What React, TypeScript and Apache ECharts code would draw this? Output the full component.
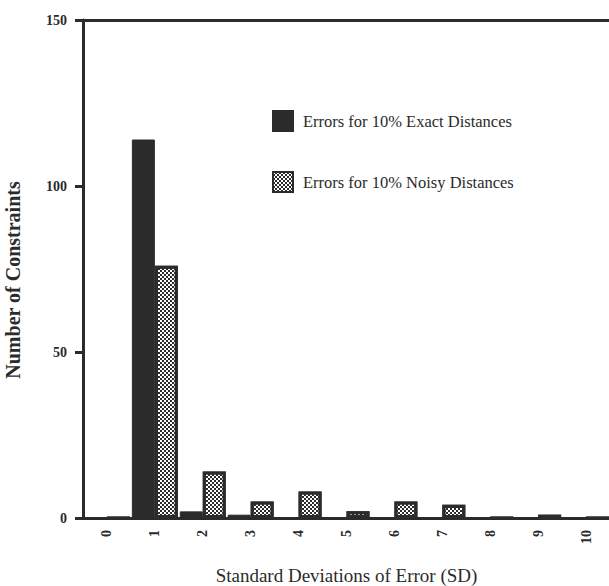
import React, { useEffect, useRef } from "react";
import * as echarts from "echarts";

const categories = ["0", "1", "2", "3", "4", "5", "6", "7", "8", "9", "10"];
const exactValues = [0, 114, 2, 1, 0, 0, 0, 0, 0, 0, 0];
const noisyValues = [0, 76, 14, 5, 8, 2, 5, 4, 0, 1, 0];
const exactName = "Errors for 10% Exact Distances";
const noisyName = "Errors for 10% Noisy Distances";
const yTicks = [0, 50, 100, 150];

const FONT = "'Liberation Serif', 'Times New Roman', serif";
const INK = "#2b2b2b";

export default function App() {
  const ref = useRef<HTMLDivElement>(null);
  useEffect(() => {
    if (!ref.current) return;
    const chart = echarts.init(ref.current, undefined, { renderer: "svg" });
    chart.setOption({
      animation: false,
      backgroundColor: "#fff",
      textStyle: { fontFamily: FONT },
      grid: { left: 83, right: -1, top: 20, bottom: 68, containLabel: false, outerBoundsMode: "none" },
      legend: {
        orient: "vertical",
        left: 272,
        top: 110,
        padding: 0,
        itemWidth: 20,
        itemHeight: 20,
        itemGap: 39,
        textStyle: { fontFamily: FONT, fontSize: 16.5, color: INK, padding: [0, 0, 0, 5] },
        data: [
          { name: exactName, icon: "rect" },
          { name: noisyName, icon: "rect" },
        ],
      },
      xAxis: [
        {
          type: "category",
          data: categories,
          position: "bottom",
          name: "Standard Deviations of Error (SD)",
          nameLocation: "middle",
          nameGap: 48,
          nameMoveOverlap: false,
          nameTextStyle: { fontFamily: FONT, fontSize: 19, color: INK },
          axisLine: { lineStyle: { color: INK, width: 3 } },
          axisTick: { alignWithLabel: true, length: 9, lineStyle: { color: INK, width: 3 } },
          axisLabel: { rotate: 90, margin: 12, fontFamily: FONT, fontSize: 14, fontWeight: "bold", color: INK },
          splitLine: { show: false },
        },
        {
          type: "category",
          data: categories,
          position: "top",
          axisLine: { lineStyle: { color: INK, width: 3 } },
          axisTick: { show: false },
          axisLabel: { show: false },
        },
      ],
      yAxis: {
        type: "value",
        min: yTicks[0],
        max: yTicks[yTicks.length - 1],
        interval: 50,
        name: "Number of Constraints",
        nameLocation: "middle",
        nameGap: 60,
        nameMoveOverlap: false,
        nameTextStyle: { fontFamily: FONT, fontSize: 20, fontWeight: "bold", color: INK, padding: [0, 22, 0, 0] },
        axisLine: { show: true, lineStyle: { color: INK, width: 3 } },
        axisTick: { show: true, length: 8, lineStyle: { color: INK, width: 3 } },
        axisLabel: { margin: 16, fontFamily: FONT, fontSize: 14, fontWeight: "bold", color: INK },
        splitLine: { show: false },
      },
      series: [
        {
          name: exactName,
          type: "bar",
          data: exactValues,
          barWidth: 23,
          barGap: "0%",
          itemStyle: { color: INK, borderColor: INK, borderWidth: 1 },
        },
        {
          name: noisyName,
          type: "bar",
          data: noisyValues,
          barWidth: 23,
          barGap: "0%",
          itemStyle: {
            color: "#ffffff",
            borderColor: INK,
            borderWidth: 3,
            decal: {
              symbol: "rect",
              symbolSize: 1,
              color: INK,
              dashArrayX: [[2, 2], [0, 2, 2, 0]],
              dashArrayY: [2, 0],
            },
          },
        },
      ],
    });
    return () => chart.dispose();
  }, []);
  return (
    <div
      ref={ref}
      style={{ position: "fixed", left: 0, top: 0, width: 609, height: 586 }}
    />
  );
}
